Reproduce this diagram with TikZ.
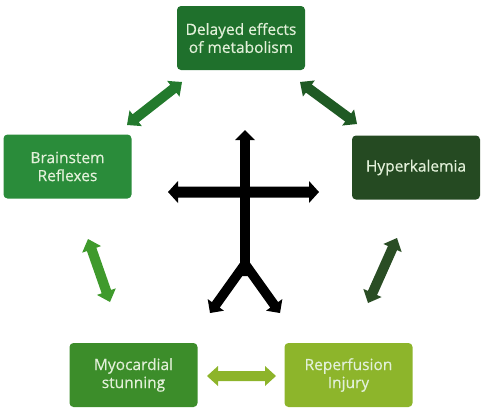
\documentclass[tikz,border=0pt]{standalone}
\usepackage{fontspec}
\setmainfont{Open Sans}
\newfontfamily\boxfont{Open Sans}[RawFeature={embolden=0.4}]
\usetikzlibrary{calc}
\definecolor{txt}{HTML}{E2F0D9}
\definecolor{cTop}{HTML}{1F702C}
\definecolor{cBrain}{HTML}{2A8C3A}
\definecolor{cHyper}{HTML}{254A22}
\definecolor{cMyo}{HTML}{3C8D2A}
\definecolor{cRep}{HTML}{8DB52B}
\definecolor{aTL}{HTML}{237A2D}
\definecolor{aTR}{HTML}{1F5A24}
\definecolor{aL}{HTML}{3F9A2C}
\definecolor{aR}{HTML}{2A4D24}
\definecolor{aB}{HTML}{8DB42A}
% double block arrow: #1 colour, #2 start, #3 end, #4 shaft half width, #5 head half width, #6 head length
\newcommand\myDblArrow[6]{%
  \fill[#1] (#2)
    -- ($(#2)!#6!(#3)!#5!90:(#3)$)
    -- ($(#2)!#6!(#3)!#4!90:(#3)$)
    -- ($(#3)!#6!(#2)!#4!-90:(#2)$)
    -- ($(#3)!#6!(#2)!#5!-90:(#2)$)
    -- (#3)
    -- ($(#3)!#6!(#2)!#5!90:(#2)$)
    -- ($(#3)!#6!(#2)!#4!90:(#2)$)
    -- ($(#2)!#6!(#3)!#4!-90:(#3)$)
    -- ($(#2)!#6!(#3)!#5!-90:(#3)$)
    -- cycle;}
% single block arrow, tip at #3
\newcommand\mySglArrow[6]{%
  \fill[#1] ($(#2)!#4!90:(#3)$)
    -- ($(#3)!#6!(#2)!#4!-90:(#2)$)
    -- ($(#3)!#6!(#2)!#5!-90:(#2)$)
    -- (#3)
    -- ($(#3)!#6!(#2)!#5!90:(#2)$)
    -- ($(#3)!#6!(#2)!#4!90:(#2)$)
    -- ($(#2)!#4!-90:(#3)$)
    -- cycle;}
\begin{document}
\begin{tikzpicture}[x=1pt,y=-1pt,
  box/.style={rectangle, rounded corners=4pt, minimum width=128pt, minimum height=64pt,
    inner sep=0pt, align=center, text=txt, font=\boxfont\fontsize{15.5}{18}\selectfont}
]
\useasboundingbox (0,0) rectangle (484,413);
% boxes
\node[box, fill=cTop]   (del)   at (241,38)    {Delayed effects\\of metabolism};
\node[box, fill=cBrain] (brain) at (67.5,166.5) {Brainstem\\Reflexes};
\node[box, fill=cHyper] (hyper) at (416,167.5) {Hyperkalemia};
\node[box, fill=cMyo]   (myo)   at (133.5,375) {Myocardial\\stunning};
\node[box, fill=cRep]   (rep)   at (348.5,375) {Reperfusion\\Injury};
% green double arrows
\coordinate (tl1) at (127,125); \coordinate (tl2) at (182,82);
\coordinate (tr1) at (300,82);  \coordinate (tr2) at (357,124);
\coordinate (l1) at (88,239);   \coordinate (l2) at (110,302);
\coordinate (r1) at (397,238);  \coordinate (r2) at (368,303);
\coordinate (b1) at (207,376);  \coordinate (b2) at (276,376);
\myDblArrow{aTL}{tl1}{tl2}{5pt}{10pt}{11pt}
\myDblArrow{aTR}{tr1}{tr2}{5pt}{10pt}{11pt}
\myDblArrow{aL}{l1}{l2}{5pt}{10pt}{11pt}
\myDblArrow{aR}{r1}{r2}{5pt}{10pt}{11pt}
\myDblArrow{aB}{b1}{b2}{5pt}{10pt}{11pt}
% black cross
\coordinate (stemb) at (245,276);
\coordinate (stemt) at (245,130);
\coordinate (hl) at (168,192);
\coordinate (hr) at (319,192);
\coordinate (split) at (245,264);
\coordinate (bl) at (210,313);
\coordinate (br) at (280,313);
\mySglArrow{black}{stemb}{stemt}{4.8pt}{10pt}{10pt}
\myDblArrow{black}{hl}{hr}{5.5pt}{11pt}{10pt}
\mySglArrow{black}{split}{bl}{4.8pt}{10pt}{10pt}
\mySglArrow{black}{split}{br}{4.8pt}{10pt}{10pt}
\end{tikzpicture}
\end{document}
